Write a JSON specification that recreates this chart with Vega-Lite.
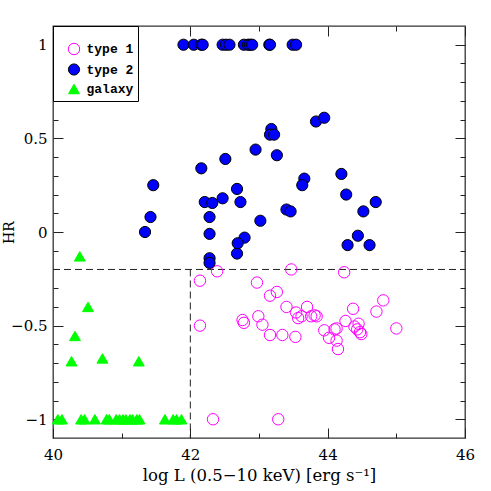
{
  "$schema": "https://vega.github.io/schema/vega-lite/v6.json",
  "width": 412,
  "height": 412,
  "autosize": {"type": "none"},
  "padding": {"left": 53, "top": 26, "right": 26, "bottom": 53},
  "config": {
    "view": {"stroke": "#333", "strokeWidth": 1.3},
    "axis": {"grid": false, "domain": false, "tickColor": "#222", "tickWidth": 1, "labelColor": "black", "titleColor": "black", "labelOverlap": false, "labelFlush": false, "labelBound": false}
  },
  "datasets": {
    "pts": [
      {"x": 42.14, "y": -0.26, "type": "type 1"},
      {"x": 42.39, "y": -0.21, "type": "type 1"},
      {"x": 42.14, "y": -0.50, "type": "type 1"},
      {"x": 42.33, "y": -1.0, "type": "type 1"},
      {"x": 42.76, "y": -0.47, "type": "type 1"},
      {"x": 42.78, "y": -0.485, "type": "type 1"},
      {"x": 42.97, "y": -0.27, "type": "type 1"},
      {"x": 42.99, "y": -0.45, "type": "type 1"},
      {"x": 43.05, "y": -0.495, "type": "type 1"},
      {"x": 43.47, "y": -0.20, "type": "type 1"},
      {"x": 44.24, "y": -0.215, "type": "type 1"},
      {"x": 43.16, "y": -0.34, "type": "type 1"},
      {"x": 43.26, "y": -0.32, "type": "type 1"},
      {"x": 43.16, "y": -0.55, "type": "type 1"},
      {"x": 43.34, "y": -0.55, "type": "type 1"},
      {"x": 43.53, "y": -0.56, "type": "type 1"},
      {"x": 43.40, "y": -0.40, "type": "type 1"},
      {"x": 43.54, "y": -0.43, "type": "type 1"},
      {"x": 43.57, "y": -0.46, "type": "type 1"},
      {"x": 43.62, "y": -0.45, "type": "type 1"},
      {"x": 43.70, "y": -0.40, "type": "type 1"},
      {"x": 43.76, "y": -0.45, "type": "type 1"},
      {"x": 43.81, "y": -0.445, "type": "type 1"},
      {"x": 43.84, "y": -0.45, "type": "type 1"},
      {"x": 43.95, "y": -0.525, "type": "type 1"},
      {"x": 44.02, "y": -0.565, "type": "type 1"},
      {"x": 44.10, "y": -0.52, "type": "type 1"},
      {"x": 44.13, "y": -0.515, "type": "type 1"},
      {"x": 44.13, "y": -0.58, "type": "type 1"},
      {"x": 44.15, "y": -0.625, "type": "type 1"},
      {"x": 44.26, "y": -0.475, "type": "type 1"},
      {"x": 44.37, "y": -0.41, "type": "type 1"},
      {"x": 44.39, "y": -0.505, "type": "type 1"},
      {"x": 44.43, "y": -0.52, "type": "type 1"},
      {"x": 44.45, "y": -0.49, "type": "type 1"},
      {"x": 44.47, "y": -0.535, "type": "type 1"},
      {"x": 44.49, "y": -0.545, "type": "type 1"},
      {"x": 44.71, "y": -0.425, "type": "type 1"},
      {"x": 44.81, "y": -0.365, "type": "type 1"},
      {"x": 45.00, "y": -0.515, "type": "type 1"},
      {"x": 43.28, "y": -1.0, "type": "type 1"},
      {"x": 41.90, "y": 1, "type": "type 2"},
      {"x": 42.05, "y": 1, "type": "type 2"},
      {"x": 42.16, "y": 1, "type": "type 2"},
      {"x": 42.18, "y": 1, "type": "type 2"},
      {"x": 42.47, "y": 1, "type": "type 2"},
      {"x": 42.52, "y": 1, "type": "type 2"},
      {"x": 42.57, "y": 1, "type": "type 2"},
      {"x": 42.78, "y": 1, "type": "type 2"},
      {"x": 42.84, "y": 1, "type": "type 2"},
      {"x": 42.87, "y": 1, "type": "type 2"},
      {"x": 42.90, "y": 1, "type": "type 2"},
      {"x": 43.15, "y": 1, "type": "type 2"},
      {"x": 43.16, "y": 1, "type": "type 2"},
      {"x": 43.49, "y": 1, "type": "type 2"},
      {"x": 43.54, "y": 1, "type": "type 2"},
      {"x": 41.46, "y": 0.25, "type": "type 2"},
      {"x": 41.42, "y": 0.08, "type": "type 2"},
      {"x": 41.34, "y": 0.0, "type": "type 2"},
      {"x": 42.16, "y": 0.34, "type": "type 2"},
      {"x": 42.51, "y": 0.39, "type": "type 2"},
      {"x": 42.21, "y": 0.16, "type": "type 2"},
      {"x": 42.32, "y": 0.155, "type": "type 2"},
      {"x": 42.47, "y": 0.18, "type": "type 2"},
      {"x": 42.68, "y": 0.23, "type": "type 2"},
      {"x": 42.73, "y": 0.16, "type": "type 2"},
      {"x": 42.28, "y": 0.08, "type": "type 2"},
      {"x": 42.28, "y": -0.01, "type": "type 2"},
      {"x": 42.79, "y": -0.03, "type": "type 2"},
      {"x": 42.95, "y": 0.44, "type": "type 2"},
      {"x": 43.02, "y": 0.06, "type": "type 2"},
      {"x": 43.18, "y": 0.55, "type": "type 2"},
      {"x": 43.16, "y": 0.52, "type": "type 2"},
      {"x": 43.22, "y": 0.52, "type": "type 2"},
      {"x": 43.26, "y": 0.41, "type": "type 2"},
      {"x": 43.83, "y": 0.59, "type": "type 2"},
      {"x": 43.95, "y": 0.61, "type": "type 2"},
      {"x": 43.66, "y": 0.285, "type": "type 2"},
      {"x": 43.63, "y": 0.25, "type": "type 2"},
      {"x": 43.40, "y": 0.12, "type": "type 2"},
      {"x": 43.46, "y": 0.11, "type": "type 2"},
      {"x": 44.20, "y": 0.31, "type": "type 2"},
      {"x": 44.27, "y": 0.20, "type": "type 2"},
      {"x": 44.52, "y": 0.11, "type": "type 2"},
      {"x": 44.70, "y": 0.16, "type": "type 2"},
      {"x": 44.44, "y": -0.02, "type": "type 2"},
      {"x": 44.29, "y": -0.07, "type": "type 2"},
      {"x": 44.61, "y": -0.07, "type": "type 2"},
      {"x": 42.28, "y": -0.14, "type": "type 2"},
      {"x": 42.28, "y": -0.165, "type": "type 2"},
      {"x": 42.68, "y": -0.115, "type": "type 2"},
      {"x": 42.69, "y": -0.06, "type": "type 2"},
      {"x": 40.39, "y": -0.13, "type": "galaxy"},
      {"x": 40.51, "y": -0.40, "type": "galaxy"},
      {"x": 40.32, "y": -0.555, "type": "galaxy"},
      {"x": 40.27, "y": -0.69, "type": "galaxy"},
      {"x": 40.72, "y": -0.675, "type": "galaxy"},
      {"x": 41.25, "y": -0.69, "type": "galaxy"},
      {"x": 40.07, "y": -1, "type": "galaxy"},
      {"x": 40.13, "y": -1, "type": "galaxy"},
      {"x": 40.41, "y": -1, "type": "galaxy"},
      {"x": 40.46, "y": -1, "type": "galaxy"},
      {"x": 40.61, "y": -1, "type": "galaxy"},
      {"x": 40.78, "y": -1, "type": "galaxy"},
      {"x": 40.82, "y": -1, "type": "galaxy"},
      {"x": 40.92, "y": -1, "type": "galaxy"},
      {"x": 40.97, "y": -1, "type": "galaxy"},
      {"x": 41.02, "y": -1, "type": "galaxy"},
      {"x": 41.06, "y": -1, "type": "galaxy"},
      {"x": 41.12, "y": -1, "type": "galaxy"},
      {"x": 41.16, "y": -1, "type": "galaxy"},
      {"x": 41.22, "y": -1, "type": "galaxy"},
      {"x": 41.26, "y": -1, "type": "galaxy"},
      {"x": 41.63, "y": -1, "type": "galaxy"},
      {"x": 41.75, "y": -1, "type": "galaxy"},
      {"x": 41.80, "y": -1, "type": "galaxy"},
      {"x": 41.87, "y": -1, "type": "galaxy"}
    ],
    "lines": [
      {"x": 40, "x2": 46, "y": -0.2, "y2": -0.2},
      {"x": 42, "x2": 42, "y": -0.2, "y2": -1.1}
    ]
  },
  "layer": [
    {
      "data": {"name": "lines"},
      "mark": {"type": "rule", "strokeDash": [7, 4], "color": "#222", "strokeWidth": 1},
      "encoding": {
        "x": {"field": "x", "type": "quantitative", "scale": {"domain": [40, 46], "nice": false, "zero": false},
          "axis": {"orient": "top", "values": [40, 41, 42, 43, 44, 45, 46], "labels": false, "title": null,
            "tickSize": {"condition": {"test": "datum.value % 2 == 0", "value": -10}, "value": -5}}},
        "x2": {"field": "x2"},
        "y": {"field": "y", "type": "quantitative", "scale": {"domain": [-1.1, 1.1], "nice": false, "zero": false},
          "axis": {"orient": "right", "values": [-1, -0.9, -0.8, -0.7, -0.6, -0.5, -0.4, -0.3, -0.2, -0.1, 0, 0.1, 0.2, 0.3, 0.4, 0.5, 0.6, 0.7, 0.8, 0.9, 1], "labels": false, "title": null,
            "tickSize": {"condition": {"test": "abs(datum.value*2 - round(datum.value*2)) < 0.001", "value": -10}, "value": -5}}},
        "y2": {"field": "y2"}
      }
    },
    {
      "data": {"name": "pts"},
      "mark": {"type": "point", "strokeWidth": 1, "opacity": 1},
      "encoding": {
        "x": {"field": "x", "type": "quantitative", "scale": {"domain": [40, 46], "nice": false, "zero": false},
          "axis": {"orient": "bottom", "values": [40, 41, 42, 43, 44, 45, 46],
            "tickSize": {"condition": {"test": "datum.value % 2 == 0", "value": -10}, "value": -5},
            "labelExpr": "datum.value % 2 == 0 ? format(datum.value, 'd') : ''",
            "labelFont": "DejaVu Serif", "labelFontSize": 15, "labelPadding": 19,
            "title": "log L (0.5−10 keV) [erg s⁻¹]", "titleFont": "DejaVu Serif", "titleFontSize": 16.5, "titleFontWeight": "normal",
            "titleY": 37, "titleX": 206, "titleBaseline": "middle", "titleAlign": "center"}},
        "y": {"field": "y", "type": "quantitative", "scale": {"domain": [-1.1, 1.1], "nice": false, "zero": false},
          "axis": {"orient": "left", "values": [-1, -0.9, -0.8, -0.7, -0.6, -0.5, -0.4, -0.3, -0.2, -0.1, 0, 0.1, 0.2, 0.3, 0.4, 0.5, 0.6, 0.7, 0.8, 0.9, 1],
            "tickSize": {"condition": {"test": "abs(datum.value*2 - round(datum.value*2)) < 0.001", "value": -10}, "value": -5},
            "labelExpr": "abs(datum.value*2 - round(datum.value*2)) < 0.001 ? format(datum.value, '~g') : ''",
            "labelFont": "DejaVu Serif", "labelFontSize": 15, "labelPadding": 16,
            "title": "HR", "titleFont": "DejaVu Serif", "titleFontSize": 14, "titleFontWeight": "normal",
            "titleX": -44, "titleY": 206, "titleBaseline": "middle", "titleAlign": "center", "titleAngle": -90}},
        "fill": {"field": "type", "type": "nominal",
          "scale": {"domain": ["type 1", "type 2", "galaxy"], "range": ["transparent", "#0000ff", "#00ff00"]},
          "legend": {"orient": "top-left", "offset": 0, "title": " ", "titleFontSize": 8, "titlePadding": 4, "strokeColor": "black", "fillColor": "white", "padding": 4.5,
            "labelFont": "Liberation Mono", "labelFontWeight": "bold", "labelFontSize": 13, "labelOffset": 6, "symbolOffset": 10, "rowPadding": 3.5, "symbolStrokeWidth": 1}},
        "stroke": {"field": "type", "type": "nominal",
          "scale": {"domain": ["type 1", "type 2", "galaxy"], "range": ["#ff00ff", "#000000", "#00ff00"]}},
        "shape": {"field": "type", "type": "nominal",
          "scale": {"domain": ["type 1", "type 2", "galaxy"], "range": ["circle", "circle", "triangle-up"]}},
        "size": {"field": "type", "type": "nominal",
          "scale": {"domain": ["type 1", "type 2", "galaxy"], "range": [130, 120, 81]}}
      }
    }
  ],
  "resolve": {"axis": {"x": "independent", "y": "independent"}}
}
